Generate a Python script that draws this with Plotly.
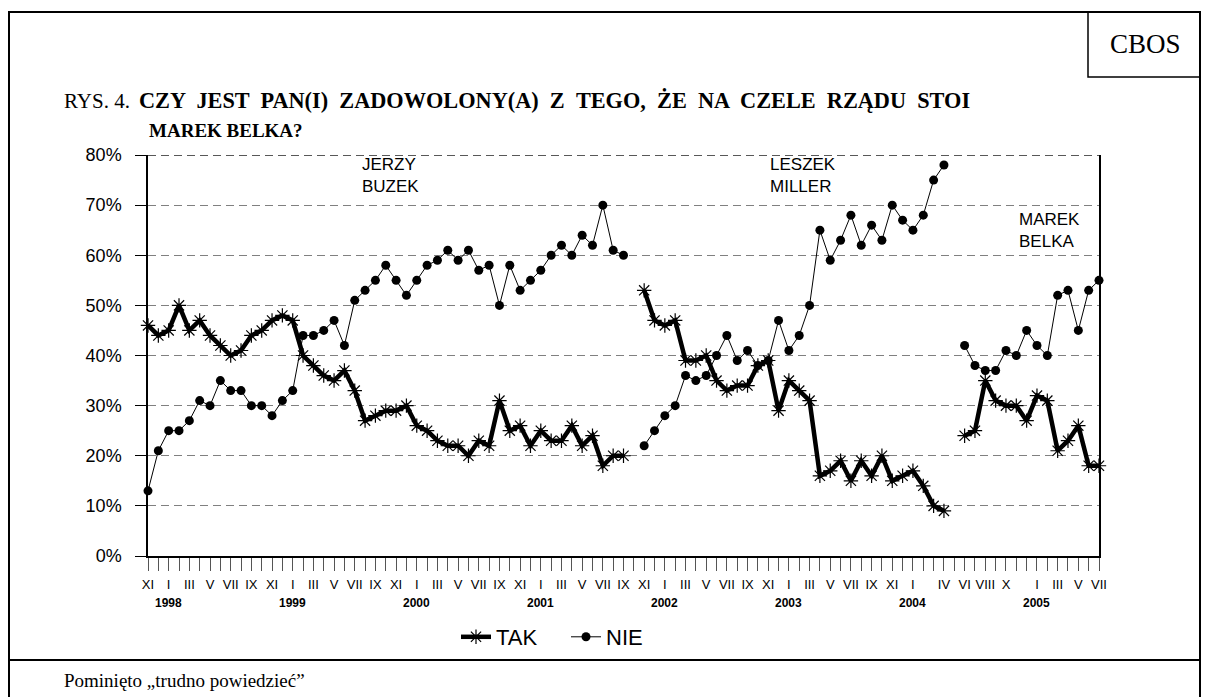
import plotly.graph_objects as go

# ---- data -------------------------------------------------------------
tick_labels = (
    ["XI", ""] +                                                   # 1997
    ["I", "", "III", "", "V", "", "VII", "", "IX", "", "XI", ""] +  # 1998
    ["I", "", "III", "", "V", "", "VII", "", "IX", "", "XI", ""] +  # 1999
    ["I", "", "III", "", "V", "", "VII", "", "IX", "", "XI", ""] +  # 2000
    ["I", "", "III", "", "V", "", "VII", "", "IX", "", "XI", ""] +  # 2001
    ["I", "", "III", "", "V", "", "VII", "", "IX", "", "XI", ""] +  # 2002
    ["I", "", "III", "", "V", "", "VII", "", "IX", "", "XI", ""] +  # 2003
    ["I", "", "", "IV", "", "VI", "", "VIII", "", "X", "", ""] +    # 2004
    ["I", "", "III", "", "V", "", "VII"]                            # 2005
)
year_labels = ["1998", "1999", "2000", "2001", "2002", "2003", "2004", "2005"]
year_index = [2, 14, 26, 38, 50, 62, 74, 86]

tak = [46, 44, 45, 50, 45, 47, 44, 42, 40, 41, 44, 45, 47, 48,
       47, 40, 38, 36, 35, 37, 33, 27, 28, 29, 29, 30, 26,
       25, 23, 22, 22, 20, 23, 22, 31, 25, 26, 22, 25, 23, 23, 26, 22, 24, 18, 20, 20,
       None,
       53, 47, 46, 47, 39, 39, 40, 35, 33, 34, 34, 38, 39, 29, 35, 33, 31, 16, 17, 19,
       15, 19, 16, 20, 15, 16, 17, 14, 10, 9,
       None,
       24, 25, 35, 31, 30, 30, 27, 32, 31, 21, 23, 26, 18, 18]

nie = [13, 21, 25, 25, 27, 31, 30, 35, 33, 33, 30, 30, 28, 31,
       33, 44, 44, 45, 47, 42, 51, 53, 55, 58, 55, 52, 55,
       58, 59, 61, 59, 61, 57, 58, 50, 58, 53, 55, 57, 60, 62, 60, 64, 62, 70, 61, 60,
       None,
       22, 25, 28, 30, 36, 35, 36, 40, 44, 39, 41, 38, 39, 47, 41, 44, 50, 65, 59, 63,
       68, 62, 66, 63, 70, 67, 65, 68, 75, 78,
       None,
       42, 38, 37, 37, 41, 40, 45, 42, 40, 52, 53, 45, 53, 55]

title_prefix = "RYS. 4."
title_words = ["CZY", "JEST", "PAN(I)", "ZADOWOLONY(A)", "Z", "TEGO,", "ŻE", "NA",
               "CZELE", "RZĄDU", "STOI"]
title_line2 = "MAREK BELKA?"
footer = "Pominięto „trudno powiedzieć”"

# ---- geometry ----------------------------------------------------------
# the page puts the figure 8px from the window's top-left corner
OFF = 8
W, H = 1193, 689
# plot area in window pixels
L, R, T, B = 148, 1099, 155, 556


def px(xp):
    return (xp - L) / (R - L)


def py(yp):
    return (B - yp) / (B - T)


SANS = "Liberation Sans, Arial, sans-serif"
SERIF = "Liberation Serif, Times New Roman, serif"
NB = "\u00a0"

x = list(range(len(tick_labels)))

fig = go.Figure()
fig.add_trace(go.Scatter(
    x=x, y=tak, name="TAK", mode="lines+markers", cliponaxis=False,
    line=dict(color="black", width=4.5),
    marker=dict(symbol="asterisk-open", size=12, color="black",
                line=dict(width=1.2, color="black")),
))
fig.add_trace(go.Scatter(
    x=x, y=nie, name="NIE", mode="lines+markers", cliponaxis=False,
    line=dict(color="black", width=1),
    marker=dict(symbol="circle", size=9, color="black"),
))

annotations = []
for lab, idx in zip(year_labels, year_index):
    annotations.append(dict(x=idx, y=py(603), xref="x", yref="paper", text="<b>%s</b>" % lab,
                            showarrow=False, font=dict(family=SANS, size=12, color="black"),
                            xanchor="center", yanchor="middle"))

# justified first title line: evenly widened gaps between words
bold_line = (" " + NB).join(title_words)

annotations += [
    dict(x=px(62), y=py(101), xref="paper", yref="paper", xanchor="left", yanchor="middle",
         text=title_prefix, showarrow=False, font=dict(family=SERIF, size=21, color="black")),
    dict(x=px(137), y=py(101), xref="paper", yref="paper", xanchor="left", yanchor="middle",
         text="<b>%s</b>" % bold_line, showarrow=False,
         font=dict(family=SERIF, size=22.3, color="black")),
    dict(x=px(147), y=py(130), xref="paper", yref="paper", xanchor="left", yanchor="middle",
         text="<b>%s</b>" % title_line2, showarrow=False,
         font=dict(family=SERIF, size=19, color="black")),
    dict(x=px(1145), y=py(44), xref="paper", yref="paper", xanchor="center", yanchor="middle",
         text="CBOS", showarrow=False, font=dict(family=SERIF, size=27, color="black")),
    dict(x=px(62), y=py(680), xref="paper", yref="paper", xanchor="left", yanchor="middle",
         text=footer, showarrow=False,
         font=dict(family=SERIF, size=19, color="black")),
    dict(x=px(360), y=py(175), xref="paper", yref="paper", xanchor="left", yanchor="middle",
         text="JERZY<br>BUZEK", align="left", showarrow=False,
         font=dict(family=SANS, size=17, color="black")),
    dict(x=px(768), y=py(175), xref="paper", yref="paper", xanchor="left", yanchor="middle",
         text="LESZEK<br>MILLER", align="left", showarrow=False,
         font=dict(family=SANS, size=17, color="black")),
    dict(x=px(1017), y=py(230), xref="paper", yref="paper", xanchor="left", yanchor="middle",
         text="MAREK<br>BELKA", align="left", showarrow=False,
         font=dict(family=SANS, size=17, color="black")),
]

shapes = [
    # outer frame
    dict(type="rect", xref="paper", yref="paper", x0=px(9), x1=px(1200), y0=py(12), y1=py(720),
         line=dict(color="black", width=2)),
    # footer separator
    dict(type="line", xref="paper", yref="paper", x0=px(9), x1=px(1200), y0=py(660), y1=py(660),
         line=dict(color="black", width=2)),
    # CBOS box
    dict(type="rect", xref="paper", yref="paper", x0=px(1088), x1=px(1200), y0=py(12), y1=py(77),
         line=dict(color="black", width=1.5)),
    # top of plot area
    dict(type="line", xref="paper", yref="y", x0=0, x1=1, y0=80, y1=80,
         line=dict(color="#222222", width=1.5, dash="8px,5px")),
]

fig.update_layout(
    width=W, height=H, autosize=False,
    margin=dict(l=L - OFF, r=W - (R - OFF), t=T - OFF, b=H - (B - OFF), pad=0),
    paper_bgcolor="white", plot_bgcolor="white",
    showlegend=True,
    legend=dict(orientation="h", x=px(456), y=py(637), xanchor="left", yanchor="middle",
                font=dict(family=SANS, size=22, color="black"), itemwidth=30,
                entrywidth=65, entrywidthmode="pixels",
                bgcolor="rgba(0,0,0,0)", tracegroupgap=0),
    xaxis=dict(range=[0, len(tick_labels) - 1], tickmode="array", tickvals=x, ticktext=tick_labels,
               ticks="outside", ticklen=13, tickwidth=1, tickcolor="#555555", tickangle=0,
               ticklabelstandoff=3,
               showline=True, linecolor="black", linewidth=1.5, showgrid=False, zeroline=False,
               tickfont=dict(family=SANS, size=13, color="black")),
    yaxis=dict(range=[0, 80], tickmode="linear", tick0=0, dtick=10, ticksuffix="%",
               ticks="outside", ticklen=11, tickcolor="black", ticklabelstandoff=10,
               showline=True, mirror=True, linecolor="black", linewidth=1.5,
               showgrid=True, gridcolor="#808080", griddash="8px,5px", gridwidth=1, zeroline=False,
               tickfont=dict(family=SANS, size=18, color="black")),
    annotations=annotations,
    shapes=shapes,
)

fig.write_html("out.html")
